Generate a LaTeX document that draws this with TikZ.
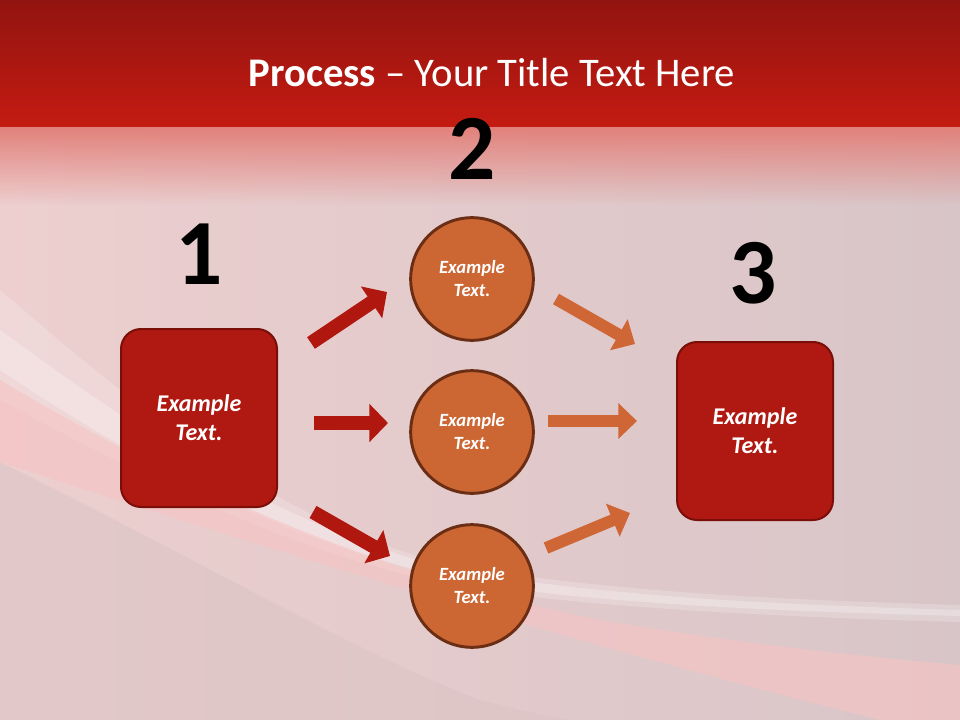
\documentclass[tikz,border=0pt]{standalone}
\usepackage{fontspec}
\setmainfont{Carlito}
\usetikzlibrary{arrows.meta}
\usetikzlibrary{calc}
\usetikzlibrary{fadings}

\definecolor{hdtop}{HTML}{921410}
\definecolor{hdbot}{HTML}{C41B12}
\definecolor{fadetop}{HTML}{E2817B}
\definecolor{bgleft}{HTML}{EDCFCF}
\definecolor{bgright}{HTML}{D8C5C8}
\definecolor{bandpink}{HTML}{F7C3C3}
\definecolor{lowgrey}{HTML}{DCC4C4}
\definecolor{boxred}{HTML}{AF1911}
\definecolor{boxline}{HTML}{7A0E08}
\definecolor{circorange}{HTML}{CC6633}
\definecolor{circline}{HTML}{6B2D14}
\definecolor{arrred}{HTML}{B0170F}
\definecolor{arrorange}{HTML}{CF6636}

\begin{document}
\begin{tikzpicture}[x=0.75pt, y=-0.75pt,
    box/.style = {draw=boxline, fill=boxred, line width=1.5pt, rounded corners=15pt,
        minimum width=117pt, minimum height=133.5pt, text=white, align=center,
        font=\fontsize{18}{21.75}\selectfont\bfseries\itshape},
    main/.style = {draw=circline, fill=circorange, line width=2.2pt, circle,
        minimum size=92pt, text=white, align=center,
        font=\fontsize{14}{17.25}\selectfont\bfseries\itshape},
    num/.style = {anchor=base, font=\fontsize{70}{70}\selectfont\bfseries},
    redarrow/.style = {arrred, line width=10.5pt, -{Triangle[length=14pt, width=28pt]}},
    orangearrow/.style = {arrorange, line width=9pt, -{Triangle[length=14pt, width=26pt]}}]

    % background
    \useasboundingbox (0,0) rectangle (960,720);
    \shade[left color=bgleft, right color=bgright] (0,0) rectangle (960,720);
    \fill[white, opacity=0.2] (0,290) .. controls (150,420) and (300,540) .. (480,570)
        .. controls (650,595) and (800,600) .. (960,605) -- (960,622)
        .. controls (800,618) and (600,608) .. (480,590)
        .. controls (300,560) and (150,480) .. (0,400) -- cycle;
    \fill[white, opacity=0.25] (0,330) .. controls (150,440) and (300,540) .. (480,575)
        .. controls (650,600) and (800,605) .. (960,610) -- (960,616)
        .. controls (800,612) and (600,604) .. (480,584)
        .. controls (300,550) and (150,470) .. (0,370) -- cycle;
    \fill[bandpink, opacity=0.6] (0,380) .. controls (200,500) and (400,580) .. (600,620)
        .. controls (750,645) and (850,655) .. (960,665) -- (960,720) -- (880,720)
        .. controls (600,650) and (300,560) .. (0,462) -- cycle;
    \fill[lowgrey, opacity=0.6] (0,462) .. controls (200,560) and (350,650) .. (480,700)
        .. controls (540,715) and (560,720) .. (580,720) -- (0,720) -- cycle;
    \shade[top color=hdtop, bottom color=hdbot] (0,0) rectangle (960,127);
    \fill[fadetop, path fading=south] (0,127) rectangle (960,205);

    \node[anchor=base, text=white, font=\fontsize{30.5}{30.5}\selectfont] (title) at (492,87)
        {\textbf{Process} -- Your Title Text Here};

    \node [num] (n1) at (199,285) {1};
    \node [num] (n2) at (472,180) {2};
    \node [num] (n3) at (753,303) {3};

    \node [box] (1) at (199,418) {Example\\Text.};
    \node [box] (3) at (755,431) {Example\\Text.};
    \node [main] (2a) at (472,279) {Example\\Text.};
    \node [main] (2b) at (472,432) {Example\\Text.};
    \node [main] (2c) at (472,586) {Example\\Text.};

    \coordinate (r1s) at (311,343); \coordinate (r1e) at (387,292);
    \coordinate (r2s) at (314,423); \coordinate (r2e) at (388,423);
    \coordinate (r3s) at (313,512); \coordinate (r3e) at (390,556);
    \coordinate (o1s) at (556,299); \coordinate (o1e) at (635,344);
    \coordinate (o2s) at (548,421); \coordinate (o2e) at (637,421);
    \coordinate (o3s) at (546,548); \coordinate (o3e) at (630,513);

    \draw[redarrow] (r1s) -- (r1e);
    \draw[redarrow] (r2s) -- (r2e);
    \draw[redarrow] (r3s) -- (r3e);
    \draw[orangearrow] (o1s) -- (o1e);
    \draw[orangearrow] (o2s) -- (o2e);
    \draw[orangearrow] (o3s) -- (o3e);

\end{tikzpicture}
\end{document}
